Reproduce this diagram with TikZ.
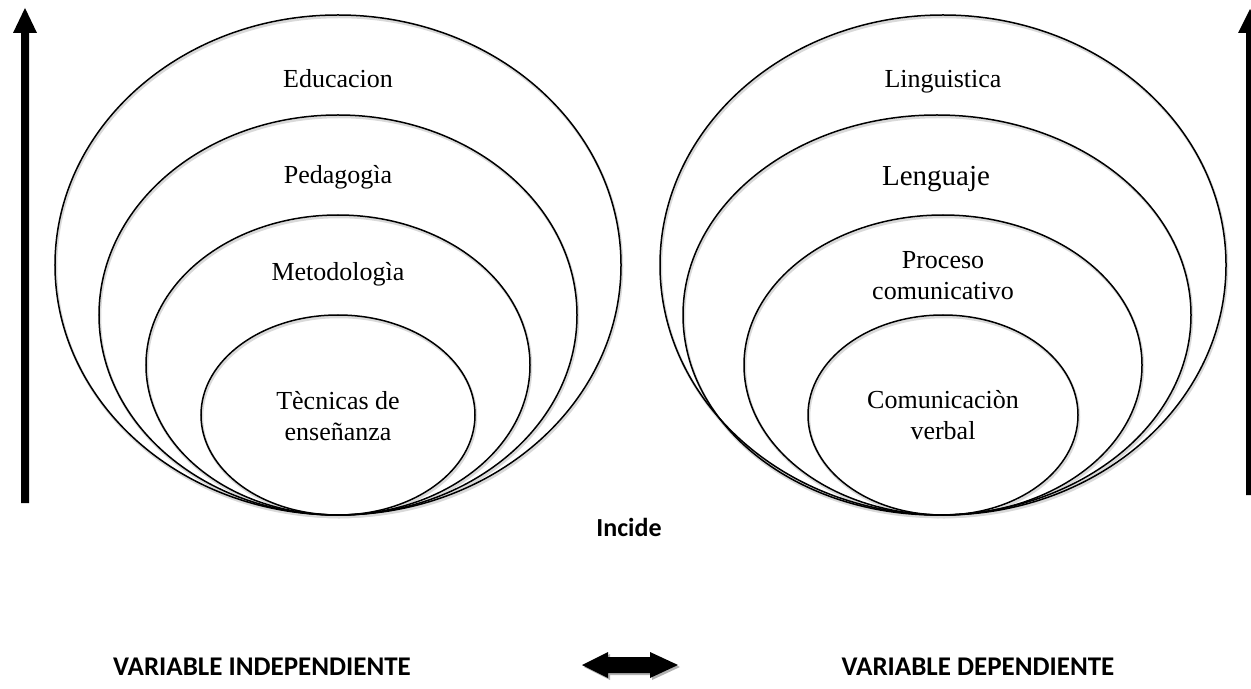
\documentclass[tikz,border=0pt]{standalone}
\usepackage{fontspec}
\setmainfont{Liberation Serif}
\newfontfamily\calib{Carlito}
\begin{document}
\begin{tikzpicture}[x=1bp,y=-1bp,
  ring/.style={line width=1.5bp,draw=black},
  ringshadow/.style={line width=2.5bp,draw=black!15},
  lbl/.style={font=\fontsize{26bp}{31bp}\selectfont,align=center,inner sep=0,anchor=base},
  biglbl/.style={font=\fontsize{29bp}{34bp}\selectfont,align=center,inner sep=0,anchor=base},
  boldlbl/.style={font=\calib\bfseries\fontsize{26bp}{30bp}\selectfont,inner sep=0,anchor=base},
  varlbl/.style={font=\calib\bfseries\fontsize{27bp}{30bp}\selectfont,inner sep=0,anchor=base}]
\useasboundingbox (0,0) rectangle (1251,689);
\clip (0,0) rectangle (1251,689);
% shadows
\foreach \cx/\cy/\rx/\ry in {338/265/283/250,338/315/239/200,338/365/192/150,338/415/137/100,
  943/265/283/250,937/315/254/200,943/365/199/150,943/415/135/100}
  \draw[ringshadow] (\cx+1,\cy+2) ellipse [x radius=\rx bp, y radius=\ry bp];
% left rings
\draw[ring] (338,265) ellipse [x radius=283bp, y radius=250bp];
\draw[ring] (338,315) ellipse [x radius=239bp, y radius=200bp];
\draw[ring] (338,365) ellipse [x radius=192bp, y radius=150bp];
\draw[ring] (338,415) ellipse [x radius=137bp, y radius=100bp];
% right rings
\draw[ring] (943,265) ellipse [x radius=283bp, y radius=250bp];
\draw[ring] (937,315) ellipse [x radius=254bp, y radius=200bp];
\draw[ring] (943,365) ellipse [x radius=199bp, y radius=150bp];
\draw[ring] (943,415) ellipse [x radius=135bp, y radius=100bp];
% labels
\node[lbl] (edu) at (338,88) {Educacion};
\node[lbl] (ped) at (338,184) {Pedagogìa};
\node[lbl] (met) at (338,280) {Metodologìa};
\node[lbl] (tec) at (338,440) {Tècnicas de\\enseñanza};
\node[lbl] (lin) at (943,88) {Linguistica};
\node[biglbl] (len) at (936,186) {Lenguaje};
\node[lbl] (pro) at (943,299) {Proceso\\comunicativo};
\node[lbl] (com) at (943,439) {Comunicaciòn\\verbal};
\node[boldlbl] (inc) at (629,536) {Incide};
\node[varlbl] (vi) at (262,675) {VARIABLE INDEPENDIENTE};
\node[varlbl] (vd) at (978,675) {VARIABLE DEPENDIENTE};
% vertical arrows
\fill (21,503) -- (21,33) -- (13,33) -- (25,8) -- (37,33) -- (29,33) -- (29,503) -- cycle;
\fill (1246,495) -- (1246,33) -- (1238,33) -- (1250,9) -- (1262,33) -- (1254,33) -- (1254,495) -- cycle;
% double arrow
\fill[black!30] (584,667) -- (610,654) -- (610,659) -- (652,659) -- (652,654) -- (680,667) -- (652,680) -- (652,675) -- (610,675) -- (610,680) -- cycle;
\fill (582,665) -- (608,652) -- (608,657) -- (650,657) -- (650,652) -- (678,665) -- (650,678) -- (650,673) -- (608,673) -- (608,678) -- cycle;
\end{tikzpicture}
\end{document}
